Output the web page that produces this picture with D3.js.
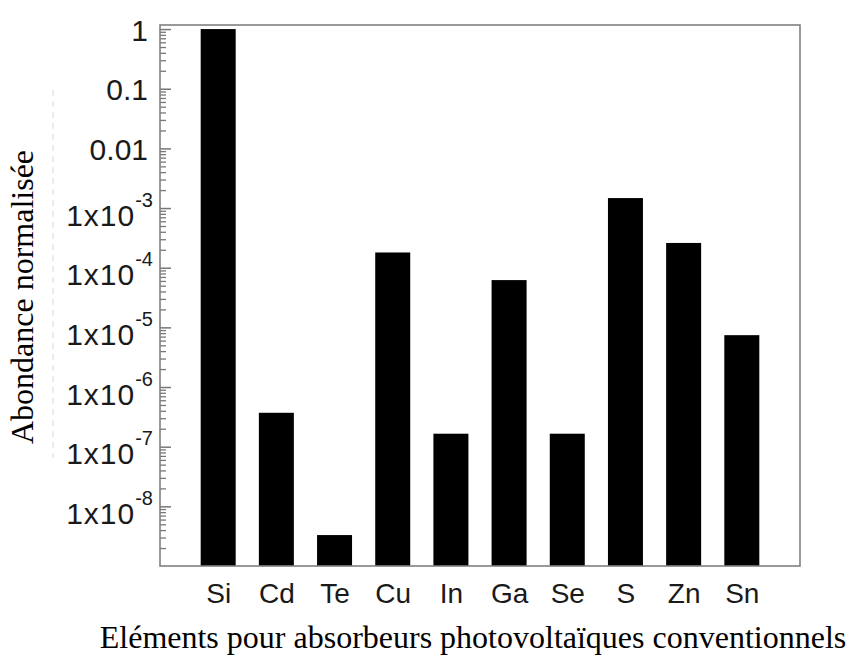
<!DOCTYPE html>
<html>
<head>
<meta charset="utf-8">
<script src="https://cdn.jsdelivr.net/npm/d3@7"></script>
<style>
  body { margin: 0; background: #fff; }
</style>
</head>
<body>
<div id="chart"></div>
<script>
// chart data
var elements = ["Si", "Cd", "Te", "Cu", "In", "Ga", "Se", "S", "Zn", "Sn"];
var abundance = [1, 3.7e-7, 3.3e-9, 1.8e-4, 1.65e-7, 6.2e-5, 1.65e-7, 1.47e-3, 2.6e-4, 7.4e-6];
var majorTicks = [1, 0.1, 0.01, 1e-3, 1e-4, 1e-5, 1e-6, 1e-7, 1e-8];
var majorLabels = ["1", "0.1", "0.01", "1x10|-3", "1x10|-4", "1x10|-5", "1x10|-6", "1x10|-7", "1x10|-8"];

var svgWidth = 850;
var svgHeight = 655;

var chartMargin = { top: 25, right: 50, bottom: 89, left: 160 };
var chartWidth = svgWidth - chartMargin.left - chartMargin.right;
var chartHeight = svgHeight - chartMargin.top - chartMargin.bottom;

var svg = d3.select("#chart")
    .append("svg")
    .attr("width", svgWidth)
    .attr("height", svgHeight);

var chartGroup = svg.append("g")
    .attr("transform", `translate(${chartMargin.left}, ${chartMargin.top})`);

// scales
var xScale = d3.scalePoint()
    .domain(elements)
    .range([0, chartWidth])
    .padding(1);

var yScale = d3.scaleLog()
    .domain([1e-9, 1.17])
    .range([chartHeight, 0]);

var barWidth = 35;

// bars
chartGroup.selectAll(".bar")
    .data(elements)
    .enter()
    .append("rect")
    .attr("class", "bar")
    .attr("x", d => xScale(d) - barWidth / 2)
    .attr("y", (d, i) => yScale(abundance[i]))
    .attr("width", barWidth)
    .attr("height", (d, i) => chartHeight - yScale(abundance[i]))
    .attr("fill", "#000");

// minor ticks (2..9 of each decade)
var minorTicks = [];
for (var e = -9; e < 0; e++) {
    for (var m = 2; m <= 9; m++) {
        var v = m * Math.pow(10, e);
        if (v <= 1.17) minorTicks.push(v);
    }
}

chartGroup.append("g")
    .attr("class", "minor-axis")
    .call(d3.axisLeft(yScale).tickValues(minorTicks).tickSize(-6).tickFormat(""))
    .call(g => g.select(".domain").remove())
    .selectAll("line").attr("stroke", "#777").attr("stroke-width", 1.3);

// major ticks and labels
var leftAxis = d3.axisLeft(yScale)
    .tickValues(majorTicks)
    .tickSize(-11)
    .tickPadding(10)
    .tickFormat("");

var yAxisG = chartGroup.append("g")
    .attr("class", "y-axis")
    .call(leftAxis);
yAxisG.select(".domain").remove();
yAxisG.selectAll("line").attr("stroke", "#777").attr("stroke-width", 1.5);

yAxisG.selectAll(".tick text").each(function(d, i) {
    var t = d3.select(this)
        .attr("fill", "#1a1a1a")
        .style("font-family", "'Liberation Sans', Arial, sans-serif")
        .style("font-size", "30px")
        .attr("dy", null)
        .attr("x", -12);
    var parts = majorLabels[i].split("|");
    if (parts.length === 1) {
        t.attr("y", 11).text(parts[0]);
    } else {
        t.attr("y", 17).attr("x", -7);
        t.append("tspan").text(parts[0]).style("letter-spacing", "1px");
        t.append("tspan").text(parts[1]).attr("dy", -19).style("font-size", "20px");
    }
});

// category labels
var bottomAxis = d3.axisBottom(xScale).tickSize(0).tickPadding(17);
var xAxisG = chartGroup.append("g")
    .attr("transform", `translate(0, ${chartHeight})`)
    .call(bottomAxis);
xAxisG.select(".domain").remove();
xAxisG.selectAll("text")
    .attr("fill", "#1a1a1a")
    .attr("dy", "0.71em")
    .style("font-family", "'Liberation Sans', Arial, sans-serif")
    .style("font-size", "28px");

// frame
chartGroup.append("rect")
    .attr("x", 0)
    .attr("y", 0)
    .attr("width", chartWidth)
    .attr("height", chartHeight)
    .attr("fill", "none")
    .attr("stroke", "#808080")
    .attr("stroke-width", 1.6);

// faint dashed line left of the axis (scan artifact in the original)
svg.append("line")
    .attr("x1", 53).attr("x2", 53)
    .attr("y1", 90).attr("y2", 458)
    .attr("stroke", "#d8d8d8")
    .attr("stroke-dasharray", "6,5");

// axis titles
svg.append("text")
    .attr("x", 473)
    .attr("y", 648)
    .attr("text-anchor", "middle")
    .style("font-family", "'Liberation Serif', 'Times New Roman', serif")
    .style("font-size", "32px")
    .attr("fill", "#000")
    .text("Eléments pour absorbeurs photovoltaïques conventionnels");

svg.append("text")
    .attr("transform", "translate(33, 297) rotate(-90)")
    .attr("text-anchor", "middle")
    .style("font-family", "'Liberation Serif', 'Times New Roman', serif")
    .style("font-size", "32px")
    .attr("fill", "#000")
    .text("Abondance normalisée");
</script>
</body>
</html>
